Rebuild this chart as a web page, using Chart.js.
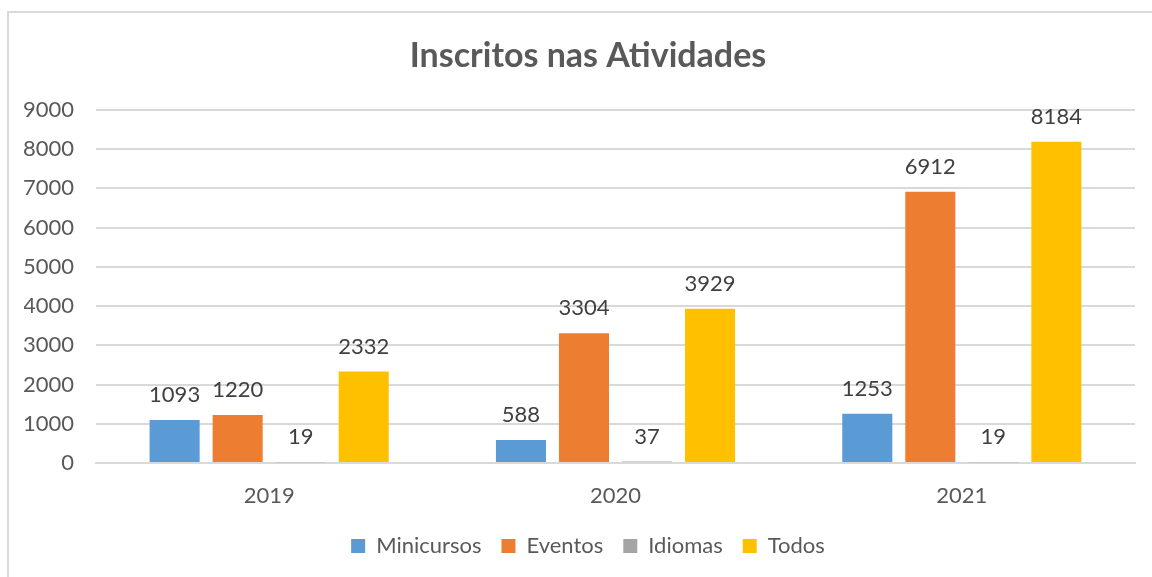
<!DOCTYPE html>
<html><head><meta charset="utf-8">
<script src="https://cdn.jsdelivr.net/npm/chart.js@4.4.0/dist/chart.umd.min.js"></script>
<style>
html,body{margin:0;padding:0;background:#fff;}
#wrap{position:relative;width:1152px;height:577px;}
#frame{position:absolute;left:7px;top:11px;width:1160px;height:580px;border:2px solid #d9d9d9;box-sizing:border-box;pointer-events:none;}
canvas{position:absolute;left:0;top:0;}
</style></head>
<body>
<div id="wrap"><canvas id="c" width="1152" height="577"></canvas><div id="frame"></div></div>
<script>
const categories = ["2019", "2020", "2021"];
const minicursos = [1093, 588, 1253];
const eventos = [1220, 3304, 6912];
const idiomas = [19, 37, 19];
const todos = [2332, 3929, 8184];
const yTicks = [0, 1000, 2000, 3000, 4000, 5000, 6000, 7000, 8000, 9000];

const FONT = "Lato, 'Open Sans', sans-serif";
const TXT = "#595959";

const labelPlugin = {
  id: 'vals',
  afterDatasetsDraw(chart) {
    const ctx = chart.ctx;
    ctx.save();
    ctx.font = "22px " + FONT;
    ctx.fillStyle = "#404040";
    ctx.textAlign = "center";
    ctx.textBaseline = "middle";
    chart.data.datasets.forEach((ds, i) => {
      chart.getDatasetMeta(i).data.forEach((bar, j) => {
        ctx.fillText(String(ds.data[j]), bar.x, bar.y - 25);
      });
    });
    ctx.restore();
  }
};

new Chart(document.getElementById('c'), {
  type: 'bar',
  data: {
    labels: categories,
    datasets: [
      {label: 'Minicursos', data: minicursos, backgroundColor: '#5B9BD5'},
      {label: 'Eventos', data: eventos, backgroundColor: '#ED7D31'},
      {label: 'Idiomas', data: idiomas, backgroundColor: '#A5A5A5'},
      {label: 'Todos', data: todos, backgroundColor: '#FFC000'}
    ]
  },
  options: {
    responsive: false,
    animation: false,
    devicePixelRatio: 1,
    layout: {padding: {left: 24, right: 0, top: 0, bottom: 10}},
    datasets: {bar: {categoryPercentage: 0.728, barPercentage: 0.794}},
    plugins: {
      title: {display: true, text: 'Inscritos nas Atividades', color: TXT,
        font: {family: FONT, size: 34, weight: 'bold'}, padding: {top: 36, bottom: 33}},
      legend: {position: 'bottom', labels: {color: TXT, font: {family: FONT, size: 22},
        boxWidth: 14, boxHeight: 14, padding: 20}},
      tooltip: {enabled: false}
    },
    scales: {
      x: {
        grid: {display: false, drawTicks: false},
        border: {display: true, color: '#d9d9d9', width: 2},
        ticks: {color: TXT, font: {family: FONT, size: 22}, padding: 20},
        afterFit(s) { s.height = 52; }
      },
      y: {
        min: 0, max: 9000,
        afterBuildTicks(s) { s.ticks = yTicks.map(v => ({value: v})); },
        grid: {color: '#d9d9d9', lineWidth: 2, drawTicks: false},
        border: {display: false},
        ticks: {color: TXT, font: {family: FONT, size: 22}, padding: 22,
          callback: (v) => String(v)},
        afterFit(s) { s.width = 72; }
      },
      yRight: {
        position: 'right', display: true, min: 0, max: 9000,
        grid: {display: false, drawTicks: false},
        border: {display: false},
        ticks: {display: false},
        afterFit(s) { s.width = 17; }
      }
    }
  },
  plugins: [labelPlugin]
});
</script>
</body></html>
